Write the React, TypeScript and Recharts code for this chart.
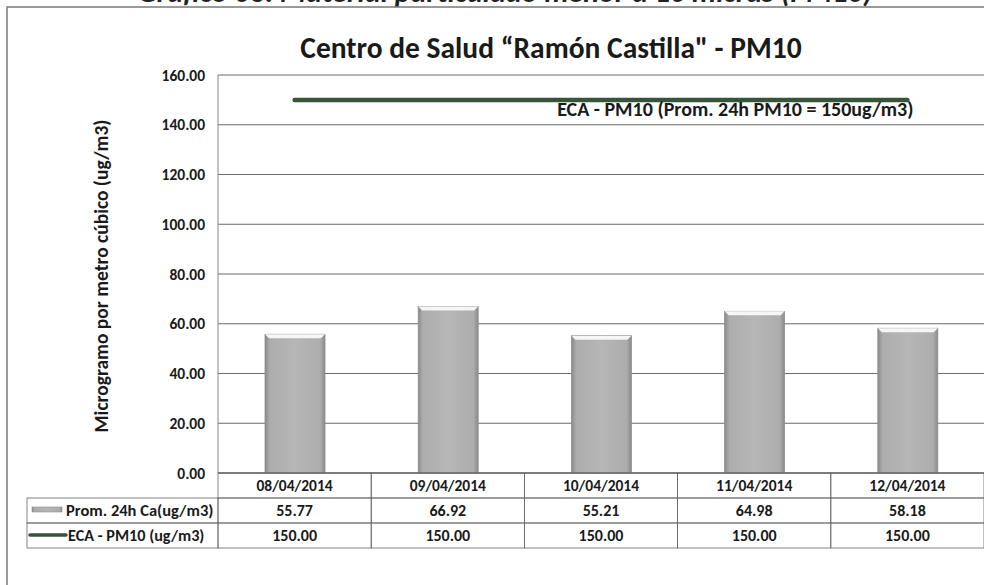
import React from 'react'
import { ComposedChart, Bar, Line, XAxis, YAxis, CartesianGrid, LabelList } from 'recharts'

const dates = ['08/04/2014', '09/04/2014', '10/04/2014', '11/04/2014', '12/04/2014']
const pm10 = [55.77, 66.92, 55.21, 64.98, 58.18]
const eca = [150, 150, 150, 150, 150]
const yTicks = [0, 20, 40, 60, 80, 100, 120, 140, 160]

const data = dates.map((d, i) => ({ date: d, pm10: pm10[i], eca: eca[i] }))

const FONT = "Carlito, Lato, 'Open Sans', sans-serif"
const W = 984
const H = 585
const PLOT_LEFT = 218
const Y_AXIS_W = 120
const ROW_H = 25
const LEGEND_LEFT = 27
const PLOT_W = W - PLOT_LEFT
const CELL_W = PLOT_W / dates.length
const LINE_COLOR = '#35543a'
const BORDER = '#666'

// bar with a light bevel at the top, like the Excel preset
const BevelBar = (props: any) => {
  const { x, y, width, height } = props
  if (!height) return null
  return (
    <g>
      <rect x={x} y={y} width={width} height={height} fill="url(#barGrad)" stroke="#8f8f8f" strokeWidth={0.8} />
      <path d={`M${x},${y} L${x + width},${y} L${x + width - 4},${y + 4} L${x + 4},${y + 4} Z`} fill="#f6f6f6" />
    </g>
  )
}

// each x tick draws its own column of the data table
const TableTick = (props: any) => {
  const { x, y, payload, index } = props
  const left = x - CELL_W / 2
  const txt = { fontFamily: FONT, fontWeight: 700, fill: '#1a1a1a', textAnchor: 'middle' as const }
  return (
    <g>
      <rect x={left} y={y} width={CELL_W} height={ROW_H} fill="none" stroke={BORDER} strokeWidth={0.8} />
      <rect x={left} y={y + ROW_H} width={CELL_W} height={ROW_H} fill="none" stroke={BORDER} strokeWidth={0.8} />
      <rect x={left} y={y + ROW_H * 2} width={CELL_W} height={ROW_H} fill="none" stroke={BORDER} strokeWidth={0.8} />
      <text x={x} y={y + 18} fontSize={15.5} {...txt}>{payload.value}</text>
      <text x={x} y={y + ROW_H + 18} fontSize={16} {...txt}>{pm10[index].toFixed(2)}</text>
      <text x={x} y={y + ROW_H * 2 + 18} fontSize={16} {...txt}>{eca[index].toFixed(2)}</text>
      {index === 0 && (
        <g>
          <rect x={LEGEND_LEFT} y={y + ROW_H} width={left - LEGEND_LEFT} height={ROW_H} fill="none" stroke={BORDER} strokeWidth={0.8} />
          <rect x={LEGEND_LEFT} y={y + ROW_H * 2} width={left - LEGEND_LEFT} height={ROW_H} fill="none" stroke={BORDER} strokeWidth={0.8} />
          <rect x={32} y={y + ROW_H + 9} width={30} height={5} fill="url(#barGrad)" stroke="#8f8f8f" strokeWidth={0.6} />
          <line x1={30} x2={66} y1={y + ROW_H * 2 + 12} y2={y + ROW_H * 2 + 12} stroke={LINE_COLOR} strokeWidth={3.5} strokeLinecap="round" />
          <text x={66} y={y + ROW_H + 18} fontFamily={FONT} fontWeight={700} fontSize={16.5} fill="#1a1a1a">Prom. 24h Ca(ug/m3)</text>
          <text x={68} y={y + ROW_H * 2 + 18} fontFamily={FONT} fontWeight={700} fontSize={16.2} fill="#1a1a1a">ECA - PM10 (ug/m3)</text>
        </g>
      )}
    </g>
  )
}

const EcaLabel = (props: any) => {
  const { x, y, index } = props
  if (index !== dates.length - 1) return null
  return (
    <text x={x + 6} y={y + 16} textAnchor="end" fontFamily={FONT} fontWeight={700} fontSize={20} fill="#1a1a1a">
      ECA - PM10 (Prom. 24h PM10 = 150ug/m3)
    </text>
  )
}

const YLabel = (props: any) => {
  const { viewBox } = props
  const cx = 101
  const cy = viewBox.y + viewBox.height / 2 + 2
  return (
    <text x={cx} y={cy} dy={7} transform={`rotate(-90, ${cx}, ${cy})`} textAnchor="middle" fontFamily={FONT} fontWeight={700} fontSize={19.5} fill="#1a1a1a">
      Microgramo por metro cúbico (ug/m3)
    </text>
  )
}

export default function App() {
  return (
    <div style={{ position: 'absolute', left: 0, top: 0, width: W, height: H, background: '#fff', overflow: 'hidden' }}>
      <svg width={W} height={H} style={{ position: 'absolute', left: 0, top: 0 }}>
        <text x={505} y={1.5} textAnchor="middle" fontFamily={FONT} fontWeight={700} fontStyle="italic" fontSize={30} fill="#222">
          Gráfico 06: Material particulado menor a 10 micras (PM10)
        </text>
        <rect x={7} y={7} width={1000} height={620} fill="none" stroke="#7a7a7a" strokeWidth={1.5} />
        <text x={551} y={58} textAnchor="middle" fontFamily={FONT} fontWeight={700} fontSize={29.5} fill="#1a1a1a">
          Centro de Salud “Ramón Castilla" - PM10
        </text>
      </svg>
      <div style={{ position: 'absolute', left: 0, top: 0 }}>
        <ComposedChart
          width={W}
          height={H}
          data={data}
          margin={{ top: 75, right: 0, bottom: H - 473 - ROW_H * 3, left: PLOT_LEFT - Y_AXIS_W }}
          barCategoryGap="30%"
        >
          <defs>
            <linearGradient id="barGrad" x1="0" y1="0" x2="1" y2="0">
              <stop offset="0%" stopColor="#8a8a8a" />
              <stop offset="8%" stopColor="#adadad" />
              <stop offset="50%" stopColor="#b6b6b6" />
              <stop offset="92%" stopColor="#adadad" />
              <stop offset="100%" stopColor="#8a8a8a" />
            </linearGradient>
          </defs>
          <CartesianGrid vertical={false} stroke="#5a5a5a" strokeWidth={0.9} />
          <XAxis
            dataKey="date"
            height={ROW_H * 3}
            interval={0}
            tickLine={false}
            tickSize={0}
            tickMargin={0}
            axisLine={{ stroke: BORDER }}
            tick={<TableTick />}
          />
          <YAxis
            width={Y_AXIS_W}
            domain={[0, 160]}
            ticks={yTicks}
            tickFormatter={(v: number) => v.toFixed(2)}
            tickLine={false}
            tickSize={0}
            tickMargin={13}
            axisLine={{ stroke: '#888' }}
            tick={{ fontFamily: FONT, fontWeight: 700, fontSize: 15.5, fill: '#1a1a1a' }}
            label={<YLabel />}
          />
          <Bar dataKey="pm10" barSize={60} shape={<BevelBar />} isAnimationActive={false} />
          <Line
            dataKey="eca"
            stroke={LINE_COLOR}
            strokeWidth={4.5}
            strokeLinecap="round"
            dot={false}
            activeDot={false}
            isAnimationActive={false}
          >
            <LabelList dataKey="eca" content={<EcaLabel />} />
          </Line>
        </ComposedChart>
      </div>
    </div>
  )
}
